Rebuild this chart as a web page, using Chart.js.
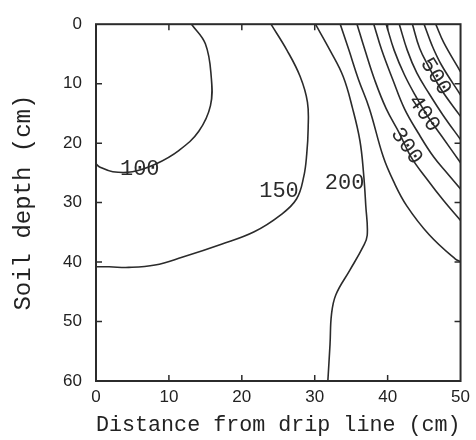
<!DOCTYPE html>
<html><head><meta charset="utf-8">
<script src="https://cdn.jsdelivr.net/npm/chart.js@4/dist/chart.umd.min.js"></script>
<style>html,body{margin:0;padding:0;background:#fff;}#wrap{width:476px;height:440px;}</style>
</head><body><div id="wrap"><canvas id="c" width="476" height="440"></canvas></div>
<script>
// Axis ticks
const xTicks = [0, 10, 20, 30, 40, 50];
const yTicks = [0, 10, 20, 30, 40, 50, 60];

// Contour levels and traced contour lines (x = distance cm, y = depth cm)
const levels = [100, 150, 200, 250, 300, 350, 400, 450, 500, 550, 600];
const c100x = [13.1, 15.0, 15.8, 15.7, 14.1, 11.4, 8.2, 5.0, 2.3, 0.5, 0];
const c100y = [0, 3.3, 8.8, 13.7, 18.0, 21.2, 23.5, 24.8, 24.8, 24.0, 23.5];
const c150x = [24.0, 26.2, 28.0, 29.0, 29.1, 28.9, 28.5, 27.5, 25.3, 21.7, 17.2, 11.8, 8.1, 4.5, 1.8, 0];
const c150y = [0, 4.4, 8.8, 13.1, 17.5, 21.9, 25.6, 29.4, 32.1, 34.9, 37.0, 39.2, 40.5, 40.9, 40.8, 40.8];
const c200x = [30.1, 32.1, 33.9, 35.2, 36.2, 36.7, 37.0, 37.2, 36.6, 34.8, 32.9, 32.3, 32.1, 31.8];
const c200y = [0, 4.4, 8.8, 14.2, 19.6, 25.1, 30.5, 35.5, 37.5, 41.4, 45.5, 48.8, 53.8, 60];
const c250x = [33.5, 34.7, 36.0, 37.5, 39.4, 40.8, 42.6, 45.7, 49.3, 50];
const c250y = [0, 4.4, 9.3, 14.2, 22.3, 26.4, 30.5, 35.4, 39.5, 39.9];
const c300x = [35.8, 36.9, 38.2, 39.8, 41.6, 43.2, 45.3, 47.7, 50];
const c300y = [0, 4.4, 9.3, 14.2, 18.3, 22.3, 25.9, 29.7, 33.0];
const c350x = [38.1, 39.2, 40.7, 42.3, 44.2, 46.3, 48.2, 50];
const c350y = [0, 4.4, 9.3, 14.2, 18.3, 22.3, 25.1, 27.7];
const c400x = [39.8, 40.9, 42.3, 43.9, 45.5, 47.4, 50];
const c400y = [0, 4.4, 8.5, 12.2, 15.5, 18.8, 23.3];
const c450x = [41.6, 42.7, 44.0, 45.7, 47.6, 50];
const c450y = [0, 4.4, 8.2, 11.7, 15.3, 19.4];
const c500x = [43.4, 44.4, 45.7, 47.3, 50];
const c500y = [0, 4.1, 7.3, 10.9, 15.5];
const c550x = [45.0, 46.1, 47.4, 50];
const c550y = [0, 3.6, 6.9, 11.9];
const c600x = [46.6, 47.7, 50];
const c600y = [0, 3.1, 8.0];

const contourX = [c100x, c150x, c200x, c250x, c300x, c350x, c400x, c450x, c500x, c550x, c600x];
const contourY = [c100y, c150y, c200y, c250y, c300y, c350y, c400y, c450y, c500y, c550y, c600y];

// Contour labels (data coordinates)
const labelText = ['100', '150', '200', '300', '400', '500'];
const labelX = [6.0, 25.1, 34.1, 42.6, 45.0, 46.6];
const labelY = [24.3, 28.1, 26.8, 20.5, 15.0, 8.8];
const labelAngle = [0, 0, 0, 55, 55, 58];

const INK = '#2b2b2b';

const datasets = levels.map((lv, i) => ({
  label: String(lv),
  data: contourX[i].map((x, j) => ({ x: x, y: contourY[i][j] })),
  showLine: true,
  borderColor: INK,
  borderWidth: 1.6,
  pointRadius: 0,
  tension: 0.4,
  fill: false
}));

const framePlugin = {
  id: 'frame',
  afterDatasetsDraw(chart) {
    const ctx = chart.ctx;
    const a = chart.chartArea;
    const xs = chart.scales.x, ys = chart.scales.y;
    ctx.save();
    // labels
    ctx.fillStyle = INK;
    ctx.font = '22px "Liberation Mono"';
    ctx.textAlign = 'center';
    ctx.textBaseline = 'middle';
    labelText.forEach((t, i) => {
      const px = xs.getPixelForValue(labelX[i]);
      const py = ys.getPixelForValue(labelY[i]);
      ctx.save();
      ctx.translate(px, py);
      ctx.rotate(labelAngle[i] * Math.PI / 180);
      ctx.fillText(t, 0, 0);
      ctx.restore();
    });
    // frame
    ctx.strokeStyle = INK;
    ctx.lineWidth = 2;
    ctx.strokeRect(a.left, a.top, a.right - a.left, a.bottom - a.top);
    // inward ticks
    ctx.lineWidth = 1.5;
    const L = 6;
    ctx.beginPath();
    xTicks.forEach(v => {
      if (v === xTicks[0] || v === xTicks[xTicks.length - 1]) return;
      const p = xs.getPixelForValue(v);
      ctx.moveTo(p, a.bottom); ctx.lineTo(p, a.bottom - L);
      ctx.moveTo(p, a.top); ctx.lineTo(p, a.top + L);
    });
    yTicks.forEach(v => {
      if (v === yTicks[0] || v === yTicks[yTicks.length - 1]) return;
      const p = ys.getPixelForValue(v);
      ctx.moveTo(a.left, p); ctx.lineTo(a.left + L, p);
      ctx.moveTo(a.right, p); ctx.lineTo(a.right - L, p);
    });
    ctx.stroke();
    ctx.restore();
  }
};

new Chart(document.getElementById('c'), {
  type: 'scatter',
  data: { datasets: datasets },
  options: {
    responsive: false,
    animation: false,
    devicePixelRatio: 1,
    layout: { padding: { top: 13, right: 11, left: 0, bottom: 0 } },
    plugins: { legend: { display: false }, tooltip: { enabled: false } },
    scales: {
      x: {
        type: 'linear', min: 0, max: 50,
        afterBuildTicks: s => { s.ticks = xTicks.map(v => ({ value: v })); },
        afterFit: s => { s.height = 59; },
        grid: { display: false, drawTicks: false },
        border: { display: false },
        ticks: { padding: 6, color: '#222', font: { family: 'Liberation Sans', size: 17 } },
        title: { display: true, text: 'Distance from drip line (cm)', color: '#222',
                 font: { family: 'Liberation Mono', size: 22 }, padding: { top: 0, bottom: 2 } }
      },
      y: {
        type: 'linear', min: 0, max: 60, reverse: true,
        afterBuildTicks: s => { s.ticks = yTicks.map(v => ({ value: v })); },
        afterFit: s => { s.width = 96; },
        grid: { display: false, drawTicks: false },
        border: { display: false },
        ticks: { padding: 14, color: '#222', font: { family: 'Liberation Sans', size: 17 } },
        title: { display: true, text: 'Soil depth (cm)', color: '#222',
                 font: { family: 'Liberation Mono', size: 24 }, padding: { top: 9, bottom: 0 } }
      }
    }
  },
  plugins: [framePlugin]
});
</script>
</body></html>
